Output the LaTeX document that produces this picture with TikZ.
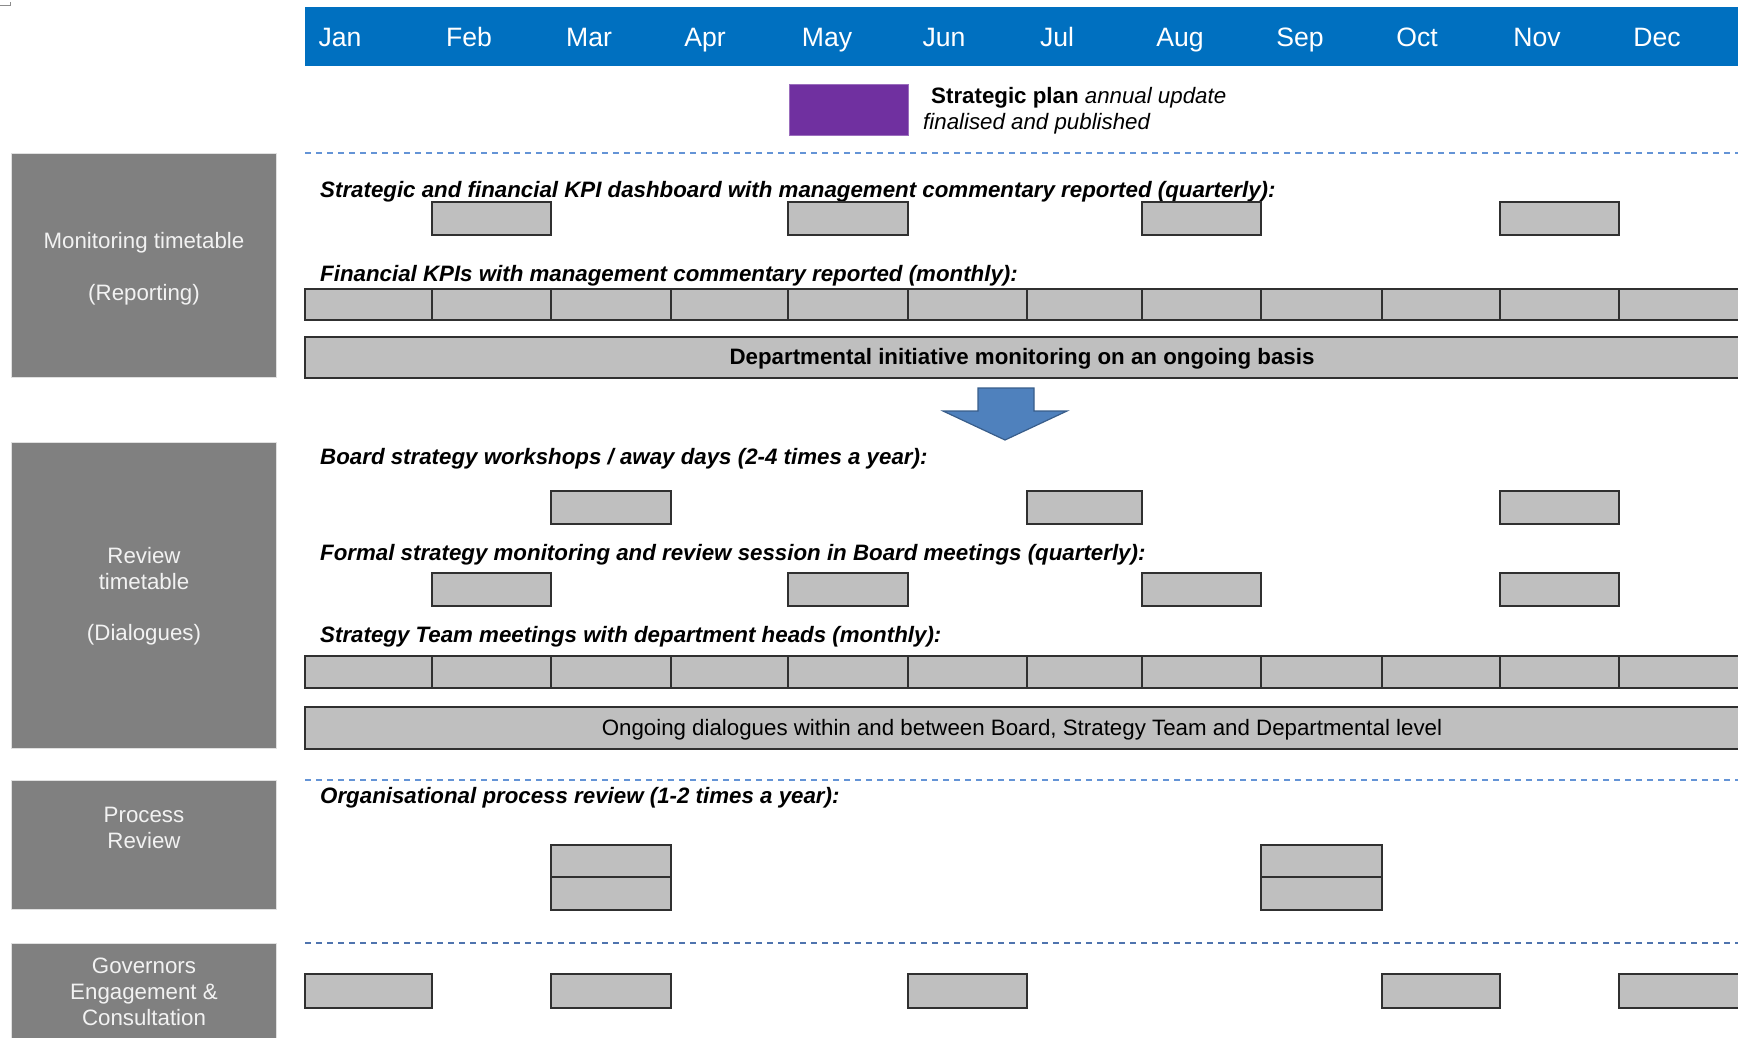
\documentclass[tikz,border=0pt]{standalone}
\usepackage{fontspec}
\setmainfont{Liberation Sans}
\usetikzlibrary{fit}
\definecolor{hdrblue}{HTML}{0070C0}
\definecolor{sidegray}{HTML}{808080}
\definecolor{boxgray}{HTML}{BFBFBF}
\definecolor{boxedge}{HTML}{303030}
\definecolor{plum}{HTML}{7030A0}
\definecolor{dashblue}{HTML}{6494D6}
\definecolor{dashdark}{HTML}{4F74AE}
\definecolor{arrowfill}{HTML}{4F81BD}
\definecolor{arrowedge}{HTML}{385D8A}
\definecolor{sidetext}{HTML}{F2F2F2}
\tikzset{
  gbox/.style={draw=boxedge, fill=boxgray, line width=1.2pt, inner sep=0pt, outer sep=0pt},
  sidebox/.style={fill=sidegray, draw=black!12, line width=0.8pt, inner sep=0pt},
  sidetxt/.style={text=sidetext, align=center, inner sep=0pt, font=\fontsize{22.3}{26}\selectfont},
  lbl/.style={anchor=west, inner sep=0pt, font=\fontsize{22.3}{26}\selectfont\bfseries\itshape},
  month/.style={text=white, inner sep=0pt, anchor=base, font=\fontsize{26.6}{30}\selectfont},
  sepline/.style={draw=dashblue, line width=1.6pt, dash pattern=on 6pt off 5pt},
}
\begin{document}
\begin{tikzpicture}[x=1pt,y=-1pt]
\useasboundingbox (0,0) rectangle (1738,1037);
\begin{scope}
\clip (0,0) rectangle (1738,1037);
% corner mark
\draw[black!45, line width=0.8pt] (0,5) -- (10,5) -- (10,2);
% header
\node[fill=hdrblue, inner sep=0pt, fit={(305,7)(1745,66)}] (hdr) {};
\foreach \m/\x in {Jan/340,Feb/469,Mar/589,Apr/705,May/827,Jun/944,Jul/1057,Aug/1180,Sep/1300,Oct/1417,Nov/1537,Dec/1657}
  \node[month] (mon-\m) at (\x,46.3) {\m};
% legend
\node[fill=plum, draw=plum!70, line width=0.5pt, inner sep=0pt, fit={(789,84)(908,135)}] (legend) {};
\node[anchor=west, inner sep=0pt, font=\fontsize{22.3}{26}\selectfont] (legtxt1) at (931,98) {\textbf{Strategic plan} \textit{annual update}};
\node[anchor=west, inner sep=0pt, font=\fontsize{22.3}{26}\selectfont\itshape] (legtxt2) at (923,124) {finalised and published};
% dashed separators
\coordinate (s1a) at (305,153); \coordinate (s1b) at (1745,153);
\coordinate (s2a) at (305,780); \coordinate (s2b) at (1745,780);
\coordinate (s3a) at (305,943); \coordinate (s3b) at (1745,943);
\draw[sepline] (s1a) -- (s1b);
\draw[sepline] (s2a) -- (s2b);
\draw[sepline, draw=dashdark] (s3a) -- (s3b);
% side boxes
\node[sidebox, fit={(11,153)(276,377)}] (side1) {};
\node[sidebox, fit={(11,442)(276,748)}] (side2) {};
\node[sidebox, fit={(11,780)(276,909)}] (side3) {};
\node[sidebox, fit={(11,943)(276,1045)}] (side4) {};
\node[sidetxt] (side1t) at (144,268.5) {Monitoring timetable\\[26pt](Reporting)};
\node[sidetxt] (side2t) at (144,596) {Review\\timetable\\[25pt](Dialogues)};
\node[sidetxt] (side3t) at (144,828) {Process\\Review};
\node[sidetxt] (side4t) at (144,991.5) {Governors\\Engagement \&\\Consultation};
% row labels
\node[lbl] (lab1) at (320,192) {Strategic and financial KPI dashboard with management commentary reported (quarterly):};
\node[lbl] (lab2) at (320,276) {Financial KPIs with management commentary reported (monthly):};
\node[lbl] (lab3) at (320,459) {Board strategy workshops / away days (2-4 times a year):};
\node[lbl] (lab4) at (320,555) {Formal strategy monitoring and review session in Board meetings (quarterly):};
\node[lbl] (lab5) at (320,637) {Strategy Team meetings with department heads (monthly):};
\node[lbl] (lab6) at (320,798) {Organisational process review (1-2 times a year):};
% quarterly KPI boxes
\foreach \a/\b/\n in {432/551/feb,788/908/may,1142/1261/aug,1500/1619/nov}
  \node[gbox, fit={(\a,202)(\b,235)}] (kpi-\n) {};
% monthly rows
\foreach \a/\b [count=\i] in {305/432,432/551,551/671,671/788,788/908,908/1027,1027/1142,1142/1261,1261/1382,1382/1500,1500/1619,1619/1740}{
  \node[gbox, fit={(\a,289)(\b,320)}] (fin-\i) {};
  \node[gbox, fit={(\a,656)(\b,688)}] (stm-\i) {};
}
% departmental bar
\node[gbox, fit={(305,337)(1740,378)}] (dept) {};
\node[inner sep=0pt, font=\fontsize{22.3}{26}\selectfont\bfseries] (deptt) at (1022,359) {Departmental initiative monitoring on an ongoing basis};
% arrow
\filldraw[fill=arrowfill, draw=arrowedge, line width=1.2pt, line join=miter]
  (978,388) -- (1034,388) -- (1034,411) -- (1067,411) -- (1005,440) -- (943,411) -- (978,411) -- cycle;
% board workshops
\foreach \a/\b/\n in {551/671/mar,1027/1142/jul,1500/1619/nov}
  \node[gbox, fit={(\a,491)(\b,524)}] (bw-\n) {};
% formal sessions
\foreach \a/\b/\n in {432/551/feb,788/908/may,1142/1261/aug,1500/1619/nov}
  \node[gbox, fit={(\a,573)(\b,606)}] (fs-\n) {};
% ongoing dialogues bar
\node[gbox, fit={(305,707)(1740,749)}] (dial) {};
\node[inner sep=0pt, font=\fontsize{22.3}{26}\selectfont] (dialt) at (1022,730) {Ongoing dialogues within and between Board, Strategy Team and Departmental level};
% process review
\node[gbox, fit={(551,845)(671,877)}] (pr-mar-a) {};
\node[gbox, fit={(551,877)(671,910)}] (pr-mar-b) {};
\node[gbox, fit={(1261,845)(1382,877)}] (pr-sep-a) {};
\node[gbox, fit={(1261,877)(1382,910)}] (pr-sep-b) {};
% governors
\foreach \a/\b/\n in {305/432/jan,551/671/mar,908/1027/jun,1382/1500/oct,1619/1740/dec}
  \node[gbox, fit={(\a,974)(\b,1008)}] (gov-\n) {};
\end{scope}
\end{tikzpicture}
\end{document}
